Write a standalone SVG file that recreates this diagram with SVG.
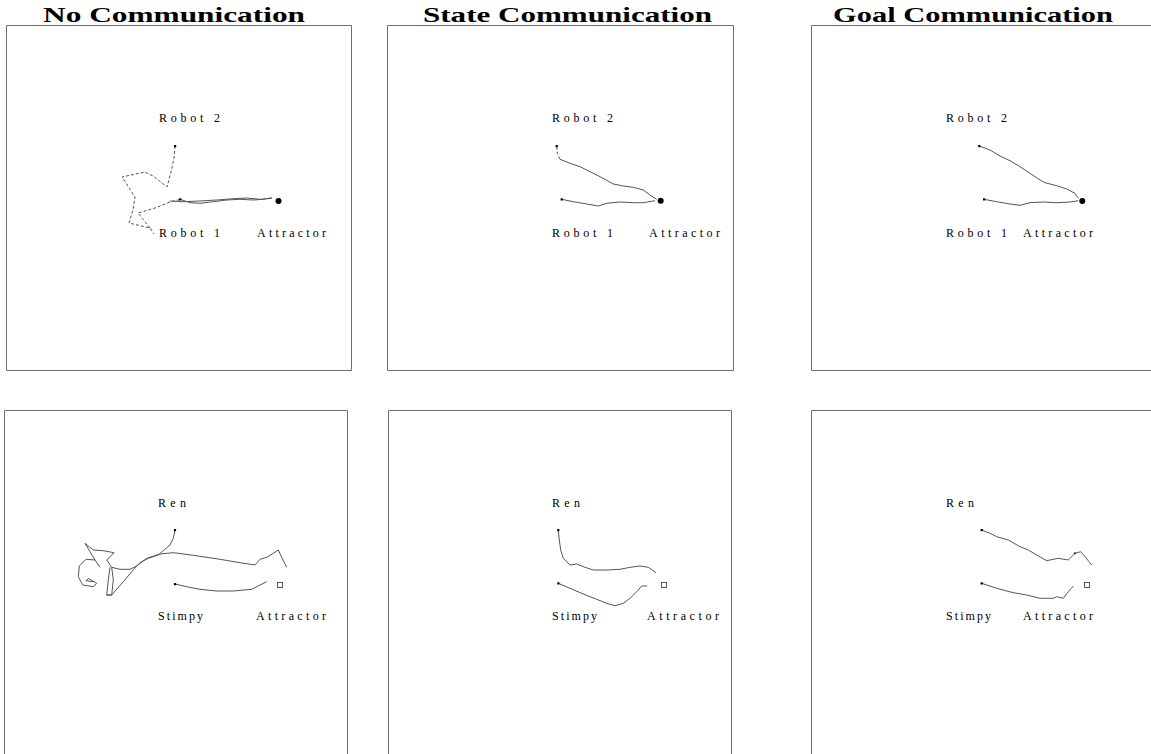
<svg xmlns="http://www.w3.org/2000/svg" width="1151" height="754" viewBox="0 0 1151 754">
<style>
.bg{fill:#ffffff}
.frame{stroke:#6e6e6e;stroke-width:1;fill:none}
.title{font-family:"Liberation Serif",serif;font-weight:bold;font-size:22px;fill:#000}
.lbl{font-family:"Liberation Serif",serif;font-size:12px;fill:#000}
.tr{stroke:#555;stroke-width:1;fill:none;stroke-linejoin:round}
.dash{stroke-dasharray:3,2}
.dot{fill:#000}
.att{fill:#000}
.sq{fill:none;stroke:#555;stroke-width:1}
</style>
<rect class="bg" x="0" y="0" width="1151" height="754"/>

<g id="titles">
<text class="title" x="43" y="22" textLength="262" lengthAdjust="spacingAndGlyphs">No Communication</text>
<text class="title" x="423" y="22" textLength="289" lengthAdjust="spacingAndGlyphs">State Communication</text>
<text class="title" x="833" y="22" textLength="280" lengthAdjust="spacingAndGlyphs">Goal Communication</text>
</g>

<g id="panel1">
<path class="frame" d="M6.5,25.5 H351.5 V370.5 H6.5 Z"/>
<text class="lbl" x="159" y="122" textLength="61" lengthAdjust="spacing">Robot 2</text>
<text class="lbl" x="159" y="237" textLength="61" lengthAdjust="spacing">Robot 1</text>
<text class="lbl" x="257" y="237" textLength="69" lengthAdjust="spacing">Attractor</text>
<path class="tr dash" d="M175,146 L174,158 L171,172 L167,187 L162,183 L153,176 L145,172 L122,177 L135,197 L133,210 L129,223 L150,228 L154,234 M150,228 L138,213 L155,208 L170,202 L182,199"/>
<path class="tr" d="M180,199.3 L190,202.7 L200,203.3 L213.3,201.7 L226.7,200 L240,199.3 L253.3,200 L263.3,199.3 L271.7,197.7"/>
<path class="tr" d="M170,201 L183.3,201.7 L200,201 L216.7,200 L233.3,198.7 L246.7,198 L260,199.3 L271.7,198.3"/>
<rect class="dot" x="174" y="145" width="2.2" height="2.2"/>
<rect class="dot" x="179" y="198.3" width="2.2" height="2.2"/>
<circle class="att" cx="278.5" cy="201" r="3"/>
</g>

<g id="panel2">
<path class="frame" d="M387.5,25.5 H733.5 V370.5 H387.5 Z"/>
<text class="lbl" x="552" y="122" textLength="61" lengthAdjust="spacing">Robot 2</text>
<text class="lbl" x="552" y="237" textLength="61" lengthAdjust="spacing">Robot 1</text>
<text class="lbl" x="649" y="237" textLength="71" lengthAdjust="spacing">Attractor</text>
<path class="tr dash" d="M556.7,146.7 L557.3,153.3 L560,159.3"/>
<path class="tr" d="M560,159.3 L570,163.3 L580,166.7 L590,171.7 L600,176.7 L613.3,184 L623.3,186 L633.3,187.3 L643.3,190 L650,195 L656.7,199.3"/>
<path class="tr" d="M561.7,199.3 L573.3,201.7 L586.7,204 L598.3,206 L606.7,203.3 L620,202 L633.3,202.7 L643.3,202.7 L655,200.7"/>
<rect class="dot" x="555.6" y="145" width="2.2" height="2.2"/>
<rect class="dot" x="560.6" y="198.3" width="2.2" height="2.2"/>
<circle class="att" cx="660.7" cy="200.7" r="3"/>
</g>

<g id="panel3">
<path class="frame" d="M1151,25.5 H811.5 V370.5 H1151"/>
<text class="lbl" x="946" y="122" textLength="61" lengthAdjust="spacing">Robot 2</text>
<text class="lbl" x="946" y="237" textLength="61" lengthAdjust="spacing">Robot 1</text>
<text class="lbl" x="1023" y="237" textLength="70" lengthAdjust="spacing">Attractor</text>
<path class="tr" d="M979.3,146 L990,150 L1000,156 L1010,160.7 L1020,166.7 L1030,173.3 L1040,180 L1045,182.7 L1056.7,185.7 L1066.7,189 L1075,193.3 L1078.3,198.3"/>
<path class="tr" d="M984,199.3 L996.7,201.7 L1010,204 L1020,205.3 L1030,202.7 L1043.3,202 L1056.7,202.7 L1070,202 L1078.3,200.7"/>
<rect class="dot" x="978.2" y="145" width="2.2" height="2.2"/>
<rect class="dot" x="983" y="198.3" width="2.2" height="2.2"/>
<circle class="att" cx="1082.3" cy="201" r="3"/>
</g>

<g id="panel4">
<path class="frame" d="M4.5,754 V410.5 H347.5 V754"/>
<text class="lbl" x="158" y="507" textLength="28" lengthAdjust="spacing">Ren</text>
<text class="lbl" x="158" y="620" textLength="45" lengthAdjust="spacing">Stimpy</text>
<text class="lbl" x="256" y="620" textLength="70" lengthAdjust="spacing">Attractor</text>
<path class="tr" d="M175,530 L173.3,538.3 L170,545 L163.3,550.7 L158.3,555 L148.3,558.3 L140,562.7 L136.7,566 L130,569.3 L120,569.3 L111.7,567.3 L106.7,560 L114,552.7 L103.3,550.7 L93.3,550 L85,543.3 L95,560 L100,567.3 M111.7,567.3 L113.3,580 L111.7,595 L106.7,595 L108.3,580 L110,567.3 M106.7,595 L111.7,595 L123.3,581.7 L136.7,566 L146.7,558.3 L160,554 L173.3,552.7 L193.3,555.3 L220,559.3 L240,562.7 L255,565 L260,559.3 L266.7,557.3 L273.3,553.3 L278.3,550 L281.7,557.3 L286.7,567.3 M95,560 L86,559.3 L79.3,566 L78.3,576.7 L82.7,585 L93.3,586.7 L96.7,583.3 L88.3,578.3 L86,580.7 L93.3,581.7"/>
<path class="tr" d="M175,584 L186.7,586.7 L200,589.3 L216.7,591 L233.3,591 L251.7,589.3 L260,585 L266.7,581.7"/>
<rect class="dot" x="173.9" y="529" width="2.2" height="2.2"/>
<rect class="dot" x="173.9" y="583" width="2.2" height="2.2"/>
<rect class="sq" x="277.5" y="582.5" width="5" height="5"/>
</g>

<g id="panel5">
<path class="frame" d="M388.5,754 V410.5 H731.5 V754"/>
<text class="lbl" x="552" y="507" textLength="28" lengthAdjust="spacing">Ren</text>
<text class="lbl" x="552" y="620" textLength="45" lengthAdjust="spacing">Stimpy</text>
<text class="lbl" x="647" y="620" textLength="72" lengthAdjust="spacing">Attractor</text>
<path class="tr" d="M558.3,530 L559.3,540 L560.7,550 L563.3,558.3 L570,565 L576.7,564 L585,567.3 L593.3,570 L606.7,570 L620,569.3 L630,567.3 L640,566 L648.3,567.3 L656,572.7"/>
<path class="tr" d="M558.3,583.3 L570,588.3 L583.3,594 L596.7,599.3 L606.7,603.3 L615,605.7 L623.3,603.3 L630,598.3 L636.7,591.7 L641.7,586 L647.3,586"/>
<rect class="dot" x="557.2" y="529" width="2.2" height="2.2"/>
<rect class="dot" x="557.2" y="582.3" width="2.2" height="2.2"/>
<rect class="sq" x="661.5" y="582.5" width="5" height="5"/>
</g>

<g id="panel6">
<path class="frame" d="M811.5,754 V410.5 H1151"/>
<text class="lbl" x="946" y="507" textLength="28" lengthAdjust="spacing">Ren</text>
<text class="lbl" x="946" y="620" textLength="45" lengthAdjust="spacing">Stimpy</text>
<text class="lbl" x="1023" y="620" textLength="70" lengthAdjust="spacing">Attractor</text>
<path class="tr" d="M981.7,530 L990,533.3 L996.7,536.7 L1008.3,540 L1020,546.7 L1028.3,550 L1036.7,555 L1046.7,560.7 L1058.3,558.3 L1068.3,560 L1075,553.3 L1080.7,551.7 L1085,556.7 L1091.7,565"/>
<path class="tr" d="M981.7,583.3 L996.7,588.3 L1013.3,592.7 L1026.7,595 L1040,598.3 L1053.3,598.3 L1056.7,596.7 L1063.3,598.3 L1068.3,591.7 L1073.3,586"/>
<rect class="dot" x="980.6" y="529" width="2.2" height="2.2"/>
<rect class="dot" x="980.6" y="582.3" width="2.2" height="2.2"/>
<rect class="dot" x="1074" y="552.5" width="1.6" height="1.6"/>
<rect class="sq" x="1084.5" y="582.5" width="5" height="5"/>
</g>
</svg>
